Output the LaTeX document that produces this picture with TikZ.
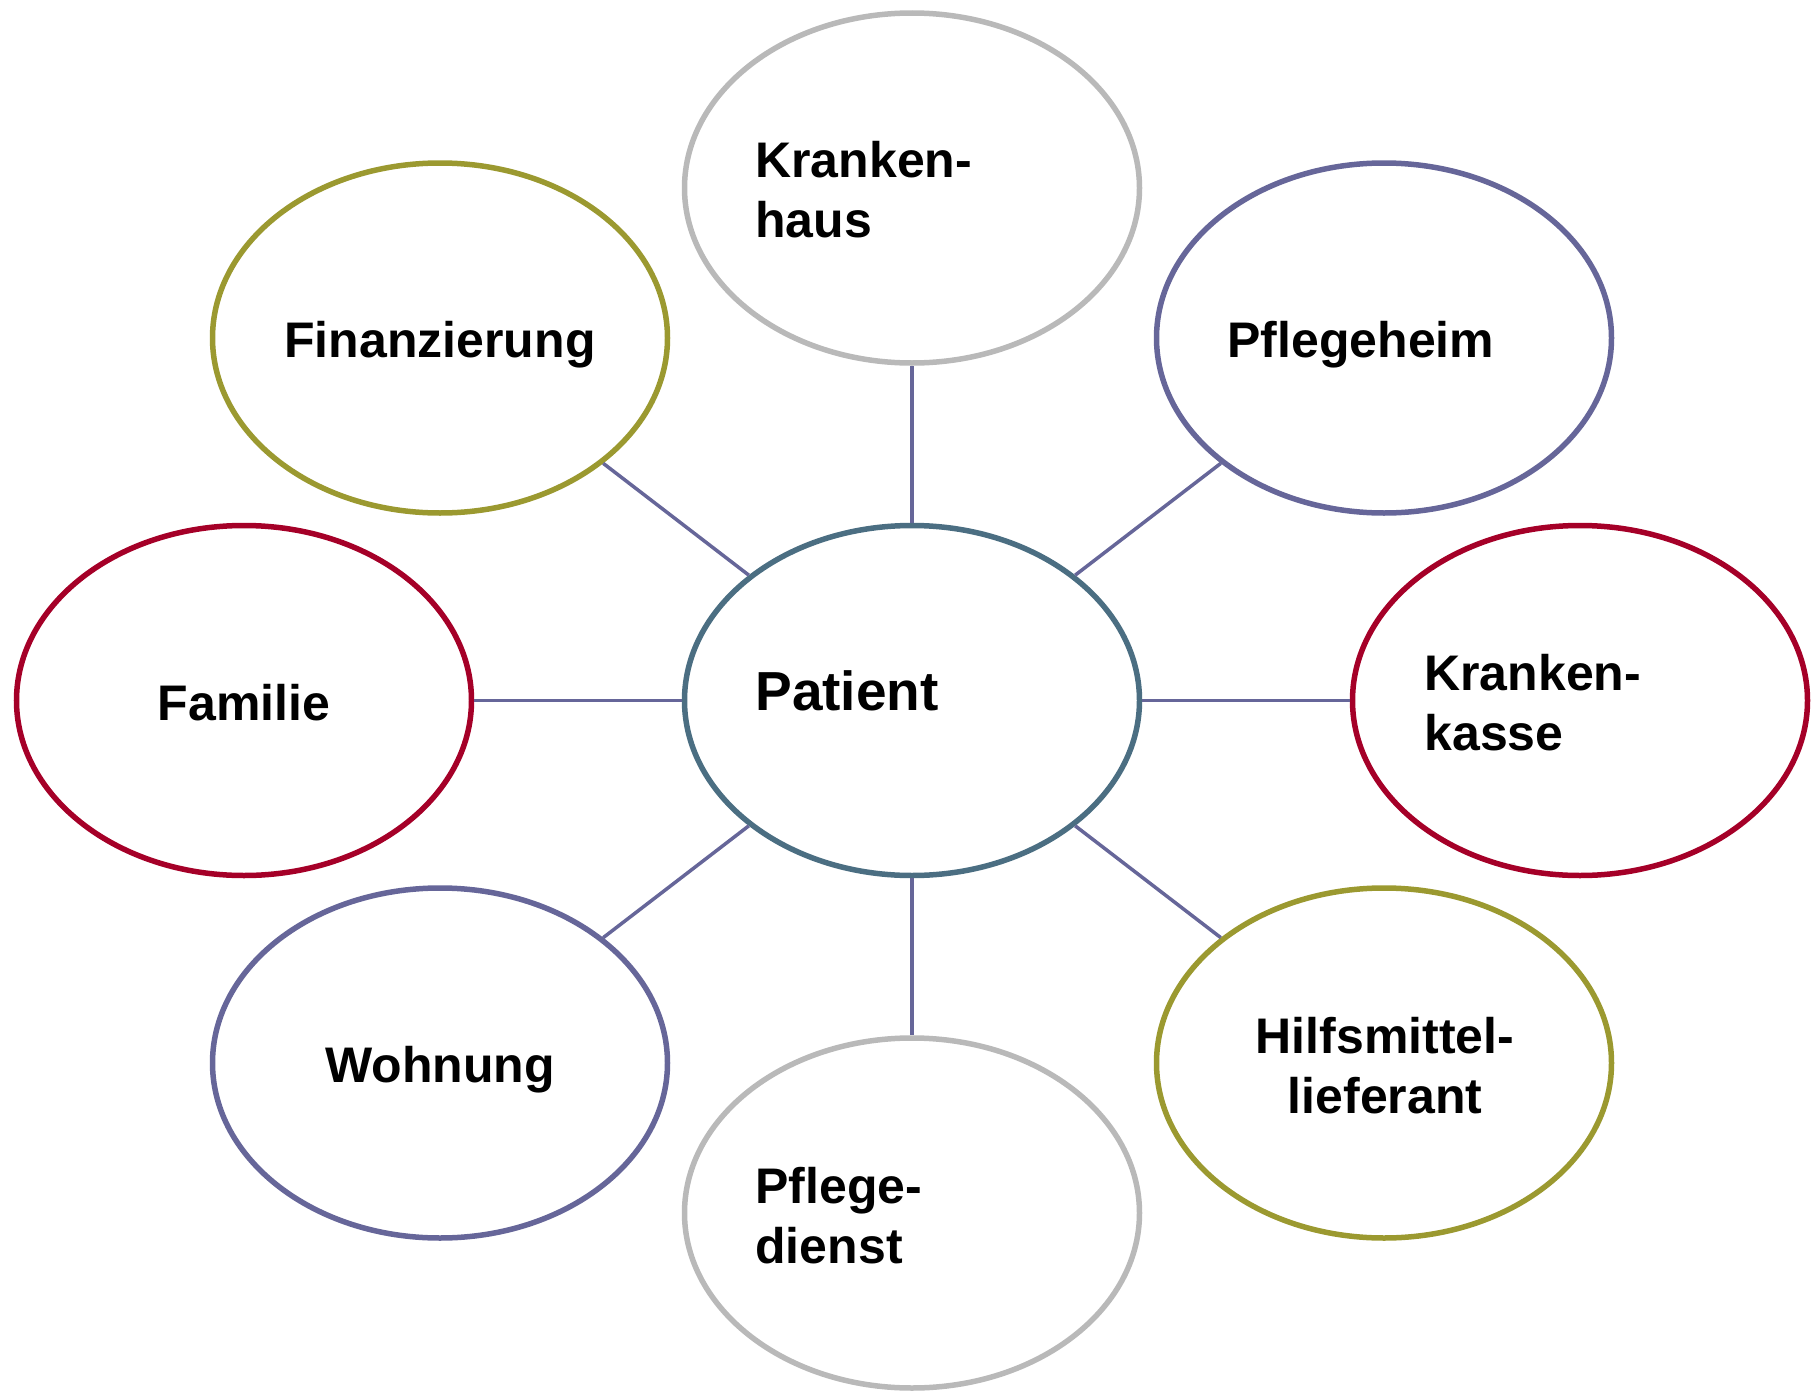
\documentclass[tikz,border=0pt]{standalone}
\usepackage{fontspec}
\setmainfont{Liberation Sans}
\usetikzlibrary{shapes.geometric}
\definecolor{olivec}{RGB}{155,153,48}
\definecolor{purplec}{RGB}{102,102,153}
\definecolor{tealc}{RGB}{75,110,130}
\definecolor{redc}{RGB}{165,0,40}
\definecolor{grayc}{RGB}{185,185,185}
\begin{document}
\begin{tikzpicture}[x=0.5pt,y=-0.5pt,
  bub/.style={ellipse, draw, line width=2.75pt, minimum width=227.5pt, minimum height=175pt, inner sep=0pt},
  lbl/.style={font=\fontsize{25}{30}\selectfont\bfseries, inner sep=0pt},
  biglbl/.style={font=\fontsize{27.5}{33}\selectfont\bfseries, inner sep=0pt},
  link/.style={draw=purplec, line width=1.75pt}]
\useasboundingbox (0,0) rectangle (1811,1392);
% ellipses
\node[bub, draw=tealc]   (pat) at (912,700.5) {};
\node[bub, draw=grayc]   (kh)  at (912,188) {};
\node[bub, draw=grayc]   (pd)  at (912,1213) {};
\node[bub, draw=olivec]  (fin) at (440,338) {};
\node[bub, draw=olivec]  (hm)  at (1384,1063) {};
\node[bub, draw=purplec] (ph)  at (1384,338) {};
\node[bub, draw=purplec] (wo)  at (440,1063) {};
\node[bub, draw=redc]    (fa)  at (244,700.5) {};
\node[bub, draw=redc]    (kk)  at (1580,700.5) {};
% texts (multi-line nodes: base anchor sits on the last line)
\node[biglbl, anchor=base west] (pat-t) at (755,710) {Patient};
\node[lbl, anchor=base west, align=left] (kh-t) at (755,237) {Kranken-\\haus};
\node[lbl, anchor=base west, align=left] (pd-t) at (755,1263) {Pflege-\\dienst};
\node[lbl, anchor=base west, align=left] (kk-t) at (1424,750) {Kranken-\\kasse};
\node[lbl, anchor=base, align=center] (hm-t) at (1385,1113) {Hilfsmittel-\\lieferant};
\node[lbl, anchor=base] (fin-t) at (440,357) {Finanzierung};
\node[lbl, anchor=base west] (ph-t) at (1227,357) {Pflegeheim};
\node[lbl, anchor=base] (fa-t) at (244,720) {Familie};
\node[lbl, anchor=base] (wo-t) at (440,1082) {Wohnung};
% connectors
\draw[link] (pat) -- (kh);
\draw[link] (pat) -- (pd);
\draw[link] (pat) -- (fin);
\draw[link] (pat) -- (ph);
\draw[link] (pat) -- (wo);
\draw[link] (pat) -- (hm);
\draw[link] (pat) -- (fa);
\draw[link] (pat) -- (kk);
\end{tikzpicture}
\end{document}
